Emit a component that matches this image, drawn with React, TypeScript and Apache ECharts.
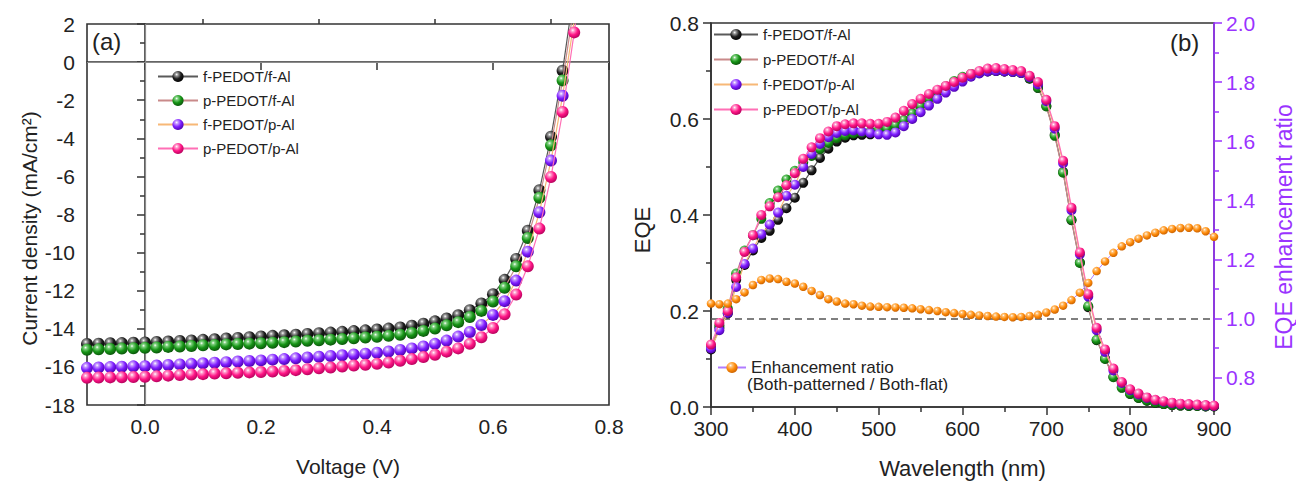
import { useEffect, useRef } from 'react';
import * as echarts from 'echarts';

// ---------- Panel (a): J-V curves ----------
const VOLTAGE = [-0.1, -0.08, -0.06, -0.04, -0.02, 0.0, 0.02, 0.04, 0.06, 0.08, 0.1, 0.12, 0.14, 0.16, 0.18, 0.2, 0.22, 0.24, 0.26, 0.28, 0.3, 0.32, 0.34, 0.36, 0.38, 0.4, 0.42, 0.44, 0.46, 0.48, 0.5, 0.52, 0.54, 0.56, 0.58, 0.6, 0.62, 0.64, 0.66, 0.68, 0.7, 0.72, 0.74, 0.76];
const J_FF = [-14.8, -14.78, -14.76, -14.75, -14.73, -14.72, -14.69, -14.67, -14.64, -14.61, -14.58, -14.55, -14.51, -14.48, -14.44, -14.4, -14.37, -14.34, -14.31, -14.27, -14.23, -14.2, -14.16, -14.12, -14.08, -14.04, -13.99, -13.93, -13.84, -13.73, -13.61, -13.46, -13.29, -13.02, -12.67, -12.18, -11.43, -10.33, -8.85, -6.73, -3.92, -0.45, 3.8, 8.5];
const J_PF = [-15.1, -15.08, -15.06, -15.04, -15.02, -15.0, -14.98, -14.95, -14.93, -14.9, -14.87, -14.85, -14.82, -14.8, -14.78, -14.76, -14.73, -14.7, -14.67, -14.63, -14.6, -14.57, -14.54, -14.5, -14.46, -14.42, -14.37, -14.31, -14.22, -14.11, -13.99, -13.82, -13.65, -13.38, -13.06, -12.57, -11.85, -10.72, -9.23, -7.12, -4.37, -0.96, 3.0, 7.8];
const J_FP = [-16.05, -16.03, -16.01, -15.99, -15.97, -15.96, -15.93, -15.9, -15.87, -15.84, -15.81, -15.78, -15.75, -15.72, -15.69, -15.66, -15.62, -15.59, -15.55, -15.51, -15.47, -15.43, -15.39, -15.35, -15.31, -15.26, -15.19, -15.11, -15.03, -14.93, -14.79, -14.62, -14.41, -14.17, -13.8, -13.27, -12.55, -11.47, -9.95, -7.88, -5.17, -1.77, 2.2, 6.8];
const J_PP = [-16.57, -16.56, -16.55, -16.54, -16.53, -16.52, -16.49, -16.46, -16.43, -16.4, -16.38, -16.35, -16.33, -16.31, -16.29, -16.27, -16.24, -16.21, -16.17, -16.12, -16.07, -16.03, -15.98, -15.93, -15.89, -15.84, -15.77, -15.68, -15.59, -15.48, -15.36, -15.2, -15.03, -14.79, -14.44, -13.96, -13.24, -12.2, -10.72, -8.74, -6.03, -2.62, 1.56, 5.9];

// ---------- Panel (b): EQE spectra ----------
const WAVELENGTH = [300, 310, 320, 330, 340, 350, 360, 370, 380, 390, 400, 410, 420, 430, 440, 450, 460, 470, 480, 490, 500, 510, 520, 530, 540, 550, 560, 570, 580, 590, 600, 610, 620, 630, 640, 650, 660, 670, 680, 690, 700, 710, 720, 730, 740, 750, 760, 770, 780, 790, 800, 810, 820, 830, 840, 850, 860, 870, 880, 890, 900];
const EQE_FF = [0.12, 0.165, 0.195, 0.265, 0.296, 0.326, 0.352, 0.367, 0.39, 0.414, 0.436, 0.467, 0.493, 0.519, 0.538, 0.553, 0.561, 0.566, 0.567, 0.568, 0.57, 0.574, 0.58, 0.592, 0.607, 0.622, 0.637, 0.652, 0.664, 0.675, 0.685, 0.692, 0.696, 0.699, 0.7, 0.699, 0.698, 0.696, 0.684, 0.665, 0.627, 0.567, 0.49, 0.389, 0.301, 0.208, 0.139, 0.101, 0.063, 0.041, 0.027, 0.019, 0.013, 0.009, 0.006, 0.004, 0.003, 0.002, 0.002, 0.001, 0.001];
const EQE_PF = [0.125, 0.17, 0.205, 0.278, 0.326, 0.358, 0.392, 0.425, 0.451, 0.474, 0.492, 0.51, 0.523, 0.537, 0.55, 0.56, 0.566, 0.57, 0.572, 0.574, 0.577, 0.58, 0.587, 0.598, 0.612, 0.627, 0.642, 0.656, 0.668, 0.679, 0.688, 0.694, 0.698, 0.7, 0.7, 0.699, 0.698, 0.696, 0.685, 0.665, 0.626, 0.565, 0.488, 0.39, 0.3, 0.21, 0.14, 0.1, 0.062, 0.04, 0.027, 0.019, 0.013, 0.009, 0.006, 0.004, 0.003, 0.002, 0.002, 0.001, 0.001];
const EQE_FP = [0.122, 0.16, 0.196, 0.25, 0.298, 0.33, 0.36, 0.38, 0.405, 0.44, 0.463, 0.5, 0.527, 0.548, 0.562, 0.571, 0.575, 0.576, 0.574, 0.571, 0.568, 0.567, 0.572, 0.585, 0.6, 0.614, 0.628, 0.642, 0.655, 0.667, 0.678, 0.688, 0.695, 0.699, 0.7, 0.699, 0.698, 0.696, 0.687, 0.672, 0.637, 0.58, 0.508, 0.41, 0.318, 0.23, 0.16, 0.115, 0.076, 0.05, 0.035, 0.026, 0.019, 0.014, 0.011, 0.008, 0.006, 0.005, 0.004, 0.003, 0.002];
const EQE_PP = [0.13, 0.175, 0.2, 0.27, 0.323, 0.358, 0.4, 0.418, 0.437, 0.462, 0.487, 0.517, 0.541, 0.56, 0.574, 0.585, 0.589, 0.591, 0.591, 0.59, 0.59, 0.594, 0.603, 0.617, 0.631, 0.642, 0.652, 0.661, 0.669, 0.677, 0.686, 0.694, 0.7, 0.705, 0.706, 0.704, 0.702, 0.7, 0.69, 0.677, 0.64, 0.585, 0.513, 0.415, 0.322, 0.235, 0.165, 0.12, 0.08, 0.052, 0.037, 0.028, 0.02, 0.015, 0.012, 0.009, 0.007, 0.006, 0.005, 0.004, 0.003];
const RATIO = [1.05, 1.048, 1.05, 1.065, 1.088, 1.113, 1.13, 1.135, 1.133, 1.124, 1.118, 1.107, 1.093, 1.079, 1.065, 1.057, 1.05, 1.048, 1.043, 1.04, 1.039, 1.038, 1.037, 1.036, 1.034, 1.031, 1.028, 1.025, 1.021, 1.018, 1.015, 1.012, 1.01, 1.008, 1.006, 1.005, 1.004, 1.005, 1.008, 1.012, 1.02, 1.03, 1.043, 1.062, 1.087, 1.12, 1.16, 1.193, 1.222, 1.244, 1.258, 1.27, 1.281, 1.29, 1.298, 1.303, 1.306, 1.307, 1.305, 1.295, 1.276];

// ---------- Names & ticks ----------
const NAMES = ['f-PEDOT/f-Al', 'p-PEDOT/f-Al', 'f-PEDOT/p-Al', 'p-PEDOT/p-Al'];
const RATIO_NAME = 'Enhancement ratio';
const RATIO_NOTE = '(Both-patterned / Both-flat)';
const V_MAJOR = [0.0, 0.2, 0.4, 0.6, 0.8];
const V_MINOR = [0.1, 0.3, 0.5, 0.7];
const R_MAJOR = [0.8, 1.0, 1.2, 1.4, 1.6, 1.8, 2.0];
const R_MINOR = [0.7, 0.9, 1.1, 1.3, 1.5, 1.7, 1.9];

const FONT = '"Liberation Sans", Arial, sans-serif';
const AXIS_C = '#333333';
const TXT_C = '#222222';
const PURPLE = '#9a33ff';

const ball = (light: string, base: string, dark: string) => ({
  type: 'radial', x: 0.38, y: 0.32, r: 0.72,
  colorStops: [
    { offset: 0, color: '#ffffff' },
    { offset: 0.18, color: light },
    { offset: 0.55, color: base },
    { offset: 1, color: dark },
  ],
});

const STYLES = [
  { line: '#5a5a5a', fill: ball('#9a9a9a', '#1e1e1e', '#000000') },
  { line: '#c98a8a', fill: ball('#7fd07f', '#169416', '#0a500a') },
  { line: '#f7b877', fill: ball('#c79bff', '#7f1dff', '#4a00a8') },
  { line: '#ff6fb5', fill: ball('#ff9ccc', '#ff1686', '#b0005a') },
];
const ORANGE_FILL = ball('#ffc680', '#ff8c0a', '#c75f00');

const zip = (xs: number[], ys: number[]) => xs.map((x, i) => [x, ys[i]]);

export default function App() {
  const ref = useRef<HTMLDivElement>(null);
  useEffect(() => {
    document.body.style.margin = '0';
    if (!ref.current) return;
    const chart = echarts.init(ref.current, undefined, { renderer: 'svg' });

    const axisLine = { show: true, lineStyle: { color: AXIS_C, width: 1.6 } };
    const labelBase = { color: TXT_C, fontSize: 21, fontFamily: FONT };

    const jSeries = [J_FF, J_PF, J_FP, J_PP].map((d, i) => ({
      name: NAMES[i],
      type: 'line',
      xAxisIndex: 0,
      yAxisIndex: 0,
      data: zip(VOLTAGE, d),
      symbol: 'circle',
      symbolSize: 12,
      clip: true,
      lineStyle: { color: STYLES[i].line, width: 1.2 },
      itemStyle: { color: STYLES[i].fill },
      z: 3 + i,
      ...(i === 0
        ? {
            markLine: {
              silent: true,
              symbol: ['none', 'none'],
              label: { show: false },
              lineStyle: { color: '#8a8a8a', width: 1.2, type: 'solid' },
              data: [{ yAxis: 0 }, { xAxis: 0 }],
              z: 1,
            },
          }
        : {}),
    }));

    const eqeSeries = [EQE_FF, EQE_PF, EQE_FP, EQE_PP].map((d, i) => ({
      name: NAMES[i],
      type: 'line',
      xAxisIndex: 2,
      yAxisIndex: 1,
      data: zip(WAVELENGTH, d),
      symbol: 'circle',
      symbolSize: 10,
      clip: true,
      lineStyle: { color: STYLES[i].line, width: 1.2 },
      itemStyle: { color: STYLES[i].fill },
      z: 3 + i,
    }));

    const ratioSeries = {
      name: RATIO_NAME,
      type: 'line',
      xAxisIndex: 2,
      yAxisIndex: 2,
      data: zip(WAVELENGTH, RATIO),
      symbol: 'circle',
      symbolSize: 8.5,
      lineStyle: { color: '#b07cff', width: 1 },
      itemStyle: { color: ORANGE_FILL },
      z: 8,
      markLine: {
        silent: true,
        symbol: ['none', 'none'],
        label: { show: false },
        lineStyle: { color: '#555555', width: 1.6, type: [7, 5] },
        data: [{ yAxis: 1.0 }],
        z: 2,
      },
    };

    chart.setOption({
      animation: false,
      textStyle: { fontFamily: FONT },
      grid: [
        { left: 87, right: 1296 - 609, top: 24, bottom: 484 - 405, show: true, borderColor: AXIS_C, borderWidth: 1.6, containLabel: false },
        { left: 711, right: 1296 - 1216, top: 23, bottom: 484 - 410, show: true, borderColor: AXIS_C, borderWidth: 1.6, containLabel: false },
      ],
      xAxis: [
        {
          gridIndex: 0, type: 'value', min: -0.1, max: 0.8,
          axisLine, splitLine: { show: false },
          axisTick: { customValues: V_MAJOR, length: 8, lineStyle: { color: AXIS_C, width: 1.5 } },
          axisLabel: { ...labelBase, customValues: V_MAJOR, margin: 11, formatter: (v: number) => v.toFixed(1) },
          name: 'Voltage (V)', nameLocation: 'middle', nameGap: 51,
          nameTextStyle: { color: TXT_C, fontSize: 21, fontFamily: FONT },
        },
        {
          gridIndex: 0, type: 'value', min: -0.1, max: 0.8,
          axisLine: { show: false }, splitLine: { show: false }, axisLabel: { show: false },
          axisTick: { customValues: V_MINOR, length: 5, lineStyle: { color: AXIS_C, width: 1.5 } },
        },
        {
          gridIndex: 1, type: 'value', min: 300, max: 900, interval: 100,
          axisLine, splitLine: { show: false },
          axisTick: { length: 8, lineStyle: { color: AXIS_C, width: 1.5 } },
          minorTick: { show: true, splitNumber: 2, length: 5, lineStyle: { color: AXIS_C, width: 1.5 } },
          axisLabel: { ...labelBase, margin: 11 },
          name: 'Wavelength (nm)', nameLocation: 'middle', nameGap: 50,
          nameTextStyle: { color: TXT_C, fontSize: 22, fontFamily: FONT },
        },
      ],
      yAxis: [
        {
          gridIndex: 0, type: 'value', min: -18, max: 2, interval: 2,
          axisLine, splitLine: { show: false },
          axisTick: { length: 8, lineStyle: { color: AXIS_C, width: 1.5 } },
          minorTick: { show: true, splitNumber: 2, length: 5, lineStyle: { color: AXIS_C, width: 1.5 } },
          axisLabel: { ...labelBase, margin: 12 },
          name: 'Current density (mA/cm²)', nameLocation: 'middle', nameGap: 47,
          nameTextStyle: { color: TXT_C, fontSize: 21, fontFamily: FONT, padding: [0, 28, 0, 0] },
        },
        {
          gridIndex: 1, type: 'value', min: 0, max: 0.8, interval: 0.2,
          axisLine, splitLine: { show: false },
          axisTick: { length: 8, lineStyle: { color: AXIS_C, width: 1.5 } },
          minorTick: { show: true, splitNumber: 2, length: 5, lineStyle: { color: AXIS_C, width: 1.5 } },
          axisLabel: { ...labelBase, margin: 12, formatter: (v: number) => v.toFixed(1) },
          name: 'EQE', nameLocation: 'middle', nameGap: 58,
          nameTextStyle: { color: TXT_C, fontSize: 22, fontFamily: FONT, padding: [0, 30, 0, 0] },
        },
        {
          gridIndex: 1, type: 'value', position: 'right', min: 0.7, max: 2.0,
          axisLine: { show: true, lineStyle: { color: PURPLE, width: 1.6 } },
          splitLine: { show: false },
          axisTick: { customValues: R_MAJOR, length: 8, lineStyle: { color: PURPLE, width: 1.5 } },
          axisLabel: { ...labelBase, color: PURPLE, margin: 12, customValues: R_MAJOR, formatter: (v: number) => v.toFixed(1) },
          name: 'EQE enhancement ratio', nameLocation: 'middle', nameGap: 58,
          nameTextStyle: { color: PURPLE, fontSize: 23, fontFamily: FONT, padding: [0, 24, 0, 0] },
        },
        {
          gridIndex: 1, type: 'value', position: 'right', min: 0.7, max: 2.0,
          axisLine: { show: false }, splitLine: { show: false }, axisLabel: { show: false },
          axisTick: { customValues: R_MINOR, length: 5, lineStyle: { color: PURPLE, width: 1.5 } },
        },
      ],
      legend: [
        {
          data: NAMES, orient: 'vertical', left: 157, top: 69, padding: 0,
          itemWidth: 40, itemHeight: 14, itemGap: 9, selectedMode: false,
          textStyle: { color: TXT_C, fontSize: 15, fontFamily: FONT },
        },
        {
          data: NAMES, orient: 'vertical', left: 713, top: 27, padding: 0,
          itemWidth: 44, itemHeight: 14, itemGap: 10, selectedMode: false,
          textStyle: { color: TXT_C, fontSize: 15, fontFamily: FONT },
        },
        {
          data: [RATIO_NAME], orient: 'vertical', left: 717, top: 359, padding: 0,
          itemWidth: 28, itemHeight: 14, selectedMode: false,
          textStyle: { color: TXT_C, fontSize: 17, fontFamily: FONT },
        },
      ],
      graphic: [
        { type: 'text', left: 92, top: 29, style: { text: '(a)', fontSize: 24, fill: TXT_C, fontFamily: FONT } },
        { type: 'text', left: 1170, top: 30, style: { text: '(b)', fontSize: 24, fill: TXT_C, fontFamily: FONT } },
        { type: 'text', left: 747, top: 376, style: { text: RATIO_NOTE, fontSize: 17, fill: TXT_C, fontFamily: FONT } },
      ],
      series: [...jSeries, ...eqeSeries, ratioSeries],
    });

    return () => chart.dispose();
  }, []);

  return <div ref={ref} style={{ width: 1296, height: 484 }} />;
}
